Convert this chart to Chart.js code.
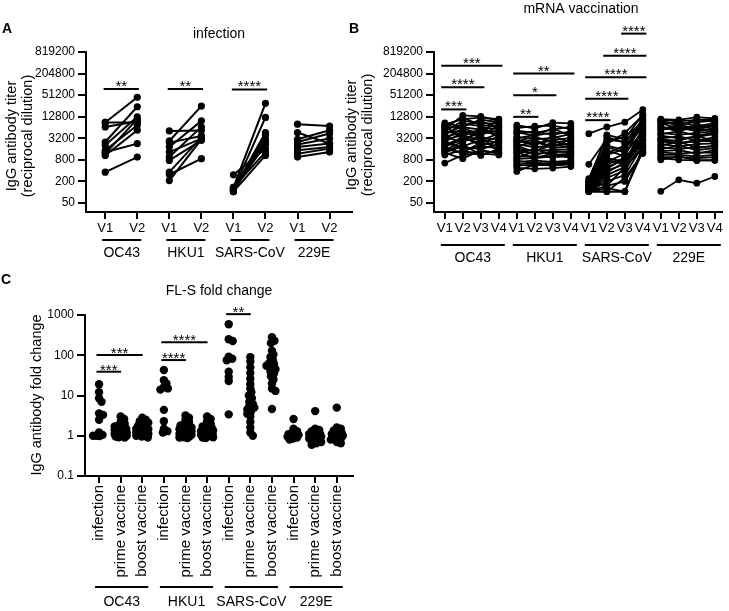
<!DOCTYPE html>
<html>
<head>
<meta charset="utf-8">
<script src="https://cdn.jsdelivr.net/npm/chart.js@4.4.1/dist/chart.umd.min.js"></script>
<style>
  html, body { margin: 0; padding: 0; background: #fff; }
  #wrap { position: relative; width: 729px; height: 611px; overflow: hidden; }
  canvas { position: absolute; }
</style>
</head>
<body>
<div id="wrap">
  <canvas id="chartA" width="360" height="300" style="left:0;top:0;width:360px;height:300px"></canvas>
  <canvas id="chartB" width="389" height="300" style="left:340px;top:0;width:389px;height:300px"></canvas>
  <canvas id="chartC" width="360" height="341" style="left:0;top:270px;width:360px;height:341px"></canvas>
</div>
<script>
const FONT = "'Liberation Sans', Arial, Helvetica, sans-serif";

const viruses = ['OC43', 'HKU1', 'SARS-CoV', '229E'];
const visitsA = ['V1', 'V2'];
const visitsB = ['V1', 'V2', 'V3', 'V4'];
const foldGroups = ['infection', 'prime vaccine', 'boost vaccine'];
const titerTicks = [50, 200, 800, 3200, 12800, 51200, 204800, 819200];
const foldTicks = [0.1, 1, 10, 100, 1000];

// panel A: titer per subject [V1, V2]
const infOC43 = [[8840, 44450], [8840, 8840], [6650, 9570], [2520, 24250], [2035, 12700],
    [1473, 7420], [1190, 10940], [1065, 5370], [1300, 2270], [362, 955]];
const infHKU1 = [[5130, 5300], [2690, 25350], [2420, 3710], [1820, 9800], [1320, 3140],
    [955, 6650], [770, 2810], [362, 3400], [312, 860], [211, 3000]];
const infSARS = [[306, 1645], [137, 30200], [118, 12200], [118, 4630], [104, 3880],
    [104, 3000], [118, 2130], [137, 1320], [104, 1065], [118, 2500]];
const inf229E = [[7920, 7000], [4630, 2270], [3000, 5370], [2520, 4340], [2130, 3140],
    [1820, 2270], [1473, 1820], [1190, 1645], [955, 1320]];

// panel B: titer per subject [V1, V2, V3, V4]
const vacOC43 = [
    [650, 1100, 1200, 1100], [1250, 860, 1500, 1200], [1400, 2100, 1100, 1500], [1600, 1300, 2400, 1900],
    [1800, 3500, 2000, 2600], [2000, 2800, 3200, 3000], [2300, 1800, 1600, 2200], [2600, 4500, 5200, 3800],
    [2900, 3900, 2800, 4300], [3200, 6000, 4200, 5200], [3600, 2400, 6500, 5800], [4000, 8200, 7000, 3400],
    [4500, 5200, 3800, 7200], [5000, 9800, 8500, 8200], [5600, 14000, 13000, 9800], [6200, 7000, 9500, 6400],
    [7000, 3000, 4600, 10800], [7800, 11000, 12000, 11000], [8600, 6500, 5600, 4800], [1100, 1500, 1065, 1600],
    [1500, 2600, 3600, 1300], [1300, 1900, 2900, 2400], [2100, 3300, 2300, 3600], [2700, 1600, 1900, 1700],
    [3400, 4800, 3400, 2900], [4200, 7000, 10500, 9000], [5200, 3800, 5500, 4000], [6800, 12000, 7500, 6800],
    [1700, 1200, 1400, 1250]];
const vacHKU1 = [
    [7400, 6000, 8800, 8300], [5200, 4500, 5600, 6800], [4300, 5000, 4000, 5000], [3500, 3000, 3300, 4200],
    [3000, 2200, 2800, 3300], [2600, 3600, 2400, 2800], [2200, 1800, 2000, 2300], [1900, 2600, 1700, 1900],
    [1600, 1500, 1500, 1600], [1400, 1200, 1300, 1400], [1200, 1600, 1100, 1200], [1000, 1000, 950, 1000],
    [850, 900, 1200, 900], [700, 760, 700, 760], [600, 650, 650, 650], [480, 450, 470, 520],
    [380, 600, 560, 600], [2000, 1300, 2600, 2000], [3200, 4000, 6000, 3700], [900, 1400, 2100, 1800],
    [6200, 7000, 7200, 5800], [4700, 3800, 4600, 4400], [2800, 2000, 3600, 2500], [2400, 2900, 1800, 3000],
    [1700, 1100, 1400, 1300], [1300, 900, 1000, 1100], [750, 650, 620, 700], [550, 580, 560, 620]];
const vacSARS = [
    [4300, 6600, 9000, 20000], [600, 3000, 2500, 8000], [210, 4000, 3000, 15000], [180, 2000, 1500, 12000],
    [160, 1500, 1000, 10000], [150, 1200, 2000, 7000], [140, 900, 700, 6000], [130, 700, 1200, 5000],
    [120, 500, 800, 4000], [115, 400, 600, 3500], [110, 300, 500, 3000], [105, 250, 400, 2500],
    [104, 200, 300, 2000], [104, 104, 104, 1500], [104, 104, 250, 1200], [190, 2500, 3500, 9000],
    [170, 1800, 1300, 4500], [125, 600, 900, 2800], [110, 104, 104, 1800], [200, 150, 200, 1300],
    [240, 3500, 2400, 11000], [145, 1100, 1600, 6500], [135, 800, 600, 3800], [120, 450, 900, 2200],
    [112, 350, 700, 5500], [108, 150, 500, 1700], [104, 130, 104, 1400], [160, 2200, 4500, 14000]];
const vac229E = [
    [106, 221, 178, 274], [11000, 10500, 12500, 11500], [9500, 8000, 9000, 10000], [8000, 9000, 7000, 8500],
    [6500, 5500, 6000, 7000], [5500, 6500, 5000, 6000], [4500, 4000, 4500, 5000], [3800, 3200, 3500, 4200],
    [3200, 3600, 2800, 3400], [2600, 2400, 2600, 2800], [2200, 1900, 2200, 2300], [1800, 1600, 1800, 1900],
    [1400, 1500, 1200, 1500], [1100, 1100, 1000, 1100], [950, 955, 900, 950], [800, 1000, 770, 780],
    [7000, 4800, 8000, 5500], [3000, 2700, 3800, 2600], [10000, 7000, 11000, 9000], [1600, 2000, 1500, 1700],
    [10500, 9500, 10500, 11000], [8500, 6000, 6500, 7500], [5800, 7500, 6000, 5200], [4200, 5000, 3800, 4600],
    [2900, 2200, 3000, 2500], [2000, 2600, 1700, 2000], [1300, 1200, 1300, 1250], [900, 800, 770, 780]];

// panel C: fold change
const foldOC43Inf = [19, 12, 8.5, 7, 3.6, 3.3, 2.5, 1.2, 1.05, 1.0, 1.0, 0.98];
const foldOC43Prime = [3.0, 2.6, 2.2, 2.0, 1.8, 1.7, 1.6, 1.5, 1.45, 1.4, 1.35, 1.3, 1.25, 1.2, 1.2, 1.15, 1.1, 1.1, 1.05, 1.0, 1.0, 1.0, 0.95, 0.92, 0.9];
const foldOC43Boost = [2.8, 2.5, 2.3, 2.1, 1.9, 1.8, 1.7, 1.6, 1.5, 1.45, 1.4, 1.3, 1.25, 1.2, 1.15, 1.1, 1.05, 1.0, 1.0, 0.95, 0.9];
const foldHKU1Inf = [43, 24, 20, 16, 15, 14, 4.4, 2.3, 1.5, 1.3, 1.2];
const foldHKU1Prime = [3.2, 2.8, 2.5, 2.2, 2.0, 1.8, 1.7, 1.6, 1.5, 1.45, 1.4, 1.3, 1.25, 1.2, 1.15, 1.1, 1.1, 1.05, 1.0, 1.0, 0.95, 0.92, 0.9, 0.88];
const foldHKU1Boost = [3.0, 2.6, 2.3, 2.0, 1.8, 1.7, 1.6, 1.5, 1.4, 1.35, 1.3, 1.25, 1.2, 1.15, 1.1, 1.1, 1.05, 1.0, 1.0, 0.95, 0.92, 0.9, 0.88];
const foldSARSInf = [590, 250, 225, 92, 82, 75, 39, 29, 23, 3.4];
const foldSARSPrime = [90, 70, 50, 36, 26, 19, 15, 12, 10, 8.5, 7, 6.2, 5.5, 5, 4.5, 4, 3.5, 3, 2.2, 1.6, 1.2, 1.0];
const foldSARSBoost = [280, 230, 200, 130, 105, 90, 75, 65, 60, 55, 50, 45, 40, 35, 30, 25, 20, 15, 13, 4.6];
const fold229EInf = [2.6, 1.5, 1.3, 1.2, 1.1, 1.05, 1.0, 1.0, 0.95, 0.9, 0.85, 0.8];
const fold229EPrime = [4.1, 1.5, 1.4, 1.3, 1.2, 1.1, 1.1, 1.05, 1.0, 1.0, 0.95, 0.9, 0.85, 0.8, 0.75, 0.7, 0.65, 0.6];
const fold229EBoost = [5.0, 1.6, 1.5, 1.35, 1.25, 1.15, 1.1, 1.05, 1.0, 1.0, 0.95, 0.9, 0.85, 0.8, 0.7, 0.65];

// significance: [from index, to index, bar height (data units), label]
const sigA = [[0, 1, 76000, '**'], [2, 3, 76000, '**'], [4, 5, 74000, '****']];
const sigB = [[0, 1, 20460, '***'], [0, 2, 85000, '****'], [0, 3, 337000, '***'],
    [4, 5, 12700, '**'], [4, 6, 51000, '*'], [4, 7, 205000, '**'],
    [8, 9, 10250, '****'], [8, 10, 40650, '****'], [8, 11, 162000, '****'],
    [9, 11, 644000, '****'], [10, 11, 2670000, '****']];
const sigC = [[0, 1, 39, '***'], [0, 2, 102, '***'], [3, 4, 76, '****'], [3, 5, 210, '****'], [6, 7, 1050, '**']];

Chart.defaults.font.family = FONT;
Chart.defaults.color = '#000';
Chart.defaults.animation = false;
Chart.defaults.plugins.legend.display = false;
Chart.defaults.plugins.tooltip.enabled = false;

function pairedDatasets(groups, nVisits, lineWidth, radius) {
    const sets = [];
    groups.forEach((subjects, g) => {
        subjects.forEach(vals => {
            sets.push({
                type: 'line',
                data: vals.map((v, i) => ({ x: g * nVisits + i, y: v })),
                borderColor: '#000',
                backgroundColor: '#000',
                borderWidth: lineWidth,
                pointRadius: radius,
                pointHoverRadius: radius,
                pointBorderWidth: 0,
                tension: 0
            });
        });
    });
    return sets;
}

// compact beeswarm: dots of near-equal value are nudged sideways a little
function swarm(values, center) {
    const pxPerDecade = 40.2, pxPerUnit = 21.6, minDist = 4, maxOff = 6;
    const placed = [];
    return values.slice().sort((a, b) => b - a).map(v => {
        const py = Math.log10(v) * pxPerDecade;
        let best = 0, bestGap = -1;
        for (let k = 0; k <= maxOff * 4; k++) {
            const cand = k === 0 ? 0 : (k % 2 ? 1 : -1) * Math.ceil(k / 2) * 0.5;
            const gap = placed.reduce((m, p) => Math.min(m, Math.hypot(cand - p.x, py - p.y)), Infinity);
            if (gap >= minDist) { best = cand; bestGap = gap; break; }
            if (gap > bestGap) { best = cand; bestGap = gap; }
        }
        placed.push({ x: best, y: py });
        return { x: center + best / pxPerUnit, y: v };
    });
}

function logAxis(min, max, ticks, width) {
    return {
        type: 'logarithmic',
        min: min,
        max: max,
        afterBuildTicks: s => { s.ticks = ticks.map(v => ({ value: v })); },
        afterFit: s => { s.width = width; },
        ticks: { callback: v => String(v), font: { size: 12 }, padding: 3, color: '#000' },
        grid: { drawOnChartArea: false, tickLength: 8, color: '#000', lineWidth: 2 },
        border: { color: '#000', width: 2 }
    };
}

function indexAxis(labels, count, min, max, height, fontSize, rotate) {
    return {
        type: 'linear',
        min: min,
        max: max,
        afterBuildTicks: s => {
            const t = [];
            for (let i = 0; i < count; i++) t.push({ value: i });
            s.ticks = t;
        },
        afterFit: s => { s.height = height; },
        ticks: {
            callback: v => labels[v % labels.length],
            font: { size: fontSize },
            padding: 2,
            autoSkip: false,
            minRotation: rotate,
            maxRotation: rotate,
            color: '#000'
        },
        grid: { drawOnChartArea: false, tickLength: 7, color: '#000', lineWidth: 2 },
        border: { color: '#000', width: 2 }
    };
}

function extrasPlugin(cfg) {
    return {
        id: 'extras',
        afterDraw(chart) {
            const ctx = chart.ctx;
            const x = chart.scales.x, y = chart.scales.y;
            ctx.save();
            ctx.fillStyle = '#000';
            ctx.strokeStyle = '#000';
            ctx.textAlign = 'center';
            ctx.textBaseline = 'middle';

            ctx.font = `bold 14px ${FONT}`;
            ctx.fillText(cfg.letter, cfg.letterPos[0], cfg.letterPos[1]);

            ctx.font = `14px ${FONT}`;
            ctx.fillText(cfg.title, cfg.titlePos[0], cfg.titlePos[1]);

            ctx.font = `14.5px ${FONT}`;
            cfg.yTitle.forEach((line, i) => {
                ctx.save();
                ctx.translate(cfg.yTitleX[i], cfg.yTitleY);
                ctx.rotate(-Math.PI / 2);
                ctx.fillText(line, 0, 0);
                ctx.restore();
            });

            // virus group underline and name
            ctx.lineWidth = 2;
            ctx.font = `14px ${FONT}`;
            viruses.forEach((name, g) => {
                const x1 = x.getPixelForValue(g * cfg.groupSize) - cfg.groupPad[0];
                const x2 = x.getPixelForValue(g * cfg.groupSize + cfg.groupSize - 1) + cfg.groupPad[1];
                ctx.beginPath();
                ctx.moveTo(x1, cfg.groupLineY);
                ctx.lineTo(x2, cfg.groupLineY);
                ctx.stroke();
                ctx.fillText(name, (x1 + x2) / 2, cfg.groupLabelY);
            });

            // significance bars
            ctx.font = `15px ${FONT}`;
            ctx.textBaseline = 'alphabetic';
            cfg.sig.forEach(([a, b, v, label]) => {
                const x1 = x.getPixelForValue(a + cfg.sigOff[0]);
                const x2 = x.getPixelForValue(b + cfg.sigOff[1]);
                const yy = y.getPixelForValue(v);
                ctx.beginPath();
                ctx.moveTo(x1, yy);
                ctx.lineTo(x2, yy);
                ctx.stroke();
                ctx.fillText(label, (x1 + x2) / 2, yy + cfg.starDy);
            });
            ctx.restore();
        }
    };
}

new Chart(document.getElementById('chartA'), {
    type: 'line',
    data: { datasets: pairedDatasets([infOC43, infHKU1, infSARS, inf229E], 2, 2, 3.6) },
    options: {
        responsive: false,
        devicePixelRatio: 1,
        layout: { padding: { left: 0, top: 52, right: 8, bottom: 0 } },
        scales: {
            x: indexAxis(visitsA, 8, -0.6, 7.7, 88, 13, 0),
            y: logAxis(28, 819200, titerTicks, 86)
        }
    },
    plugins: [extrasPlugin({
        letter: 'A', letterPos: [7, 29],
        title: 'infection', titlePos: [219, 34],
        yTitle: ['IgG antibody titer', '(reciprocal dilution)'], yTitleX: [12, 28], yTitleY: 136,
        groupSize: 2, groupPad: [3, 4], groupLineY: 240, groupLabelY: 253,
        sig: sigA, sigOff: [-0.05, 0.05], starDy: 2
    })]
});

new Chart(document.getElementById('chartB'), {
    type: 'line',
    data: { datasets: pairedDatasets([vacOC43, vacHKU1, vacSARS, vac229E], 4, 1.8, 3.4) },
    options: {
        responsive: false,
        devicePixelRatio: 1,
        layout: { padding: { left: 0, top: 52, right: 7, bottom: 0 } },
        scales: {
            x: indexAxis(visitsB, 16, -0.6, 15.4, 88, 13, 0),
            y: logAxis(28, 819200, titerTicks, 94)
        }
    },
    plugins: [extrasPlugin({
        letter: 'B', letterPos: [14, 29],
        title: 'mRNA vaccination', titlePos: [241, 9],
        yTitle: ['IgG antibody titer', '(reciprocal dilution)'], yTitleX: [12, 28], yTitleY: 135,
        groupSize: 4, groupPad: [4, 6], groupLineY: 245, groupLabelY: 258,
        sig: sigB, sigOff: [-0.2, 0.2], starDy: 2
    })]
});

const foldSets = [
    foldOC43Inf, foldOC43Prime, foldOC43Boost,
    foldHKU1Inf, foldHKU1Prime, foldHKU1Boost,
    foldSARSInf, foldSARSPrime, foldSARSBoost,
    fold229EInf, fold229EPrime, fold229EBoost
];

new Chart(document.getElementById('chartC'), {
    type: 'scatter',
    data: {
        datasets: foldSets.map((vals, i) => ({
            data: swarm(vals, i),
            backgroundColor: '#000',
            borderColor: '#000',
            pointRadius: 4.2,
            pointHoverRadius: 4.2,
            pointBorderWidth: 0
        }))
    },
    options: {
        responsive: false,
        devicePixelRatio: 1,
        layout: { padding: { left: 0, top: 45, right: 7, bottom: 0 } },
        scales: {
            x: indexAxis(foldGroups, 12, -0.65, 11.75, 135, 15, 90),
            y: logAxis(0.1, 1000, foldTicks, 85)
        }
    },
    plugins: [extrasPlugin({
        letter: 'C', letterPos: [6, 10],
        title: 'FL-S fold change', titlePos: [219, 21],
        yTitle: ['IgG antibody fold change'], yTitleX: [37], yTitleY: 125,
        groupSize: 3, groupPad: [4, 6], groupLineY: 317, groupLabelY: 332,
        sig: sigC, sigOff: [-0.12, 0.02], starDy: 3
    })]
});
</script>
</body>
</html>
